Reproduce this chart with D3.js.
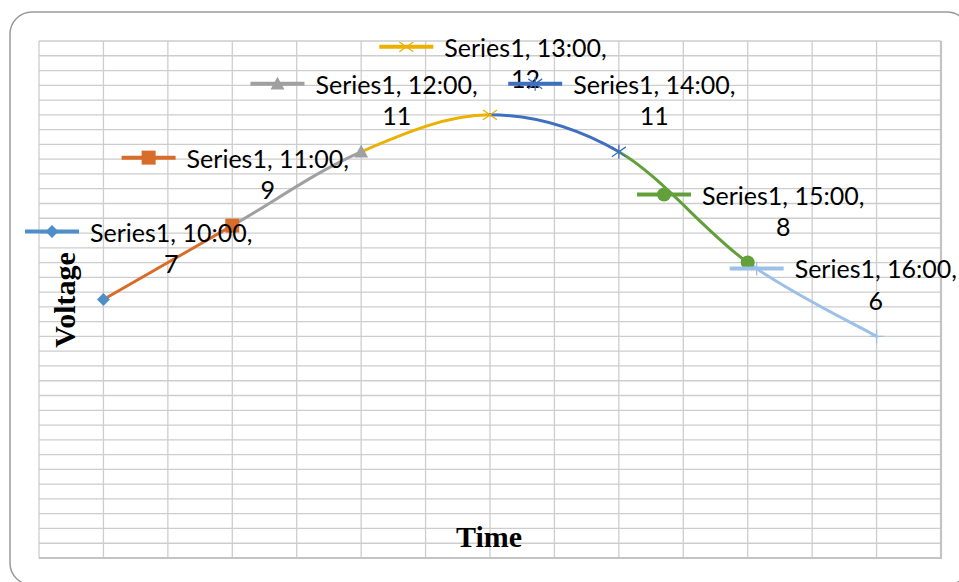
<!doctype html>
<html>

<head>
    <meta charset="UTF-8">
    <title>Voltage</title>
    <script src="https://d3js.org/d3.v7.min.js"></script>
    <style>
        body {
            margin: 0;
            background: #fff;
        }
    </style>
</head>

<body>
    <svg width="959" height="582"></svg>
    <script>
        // data
        var seriesName = "Series1";
        var categories = ["10:00", "11:00", "12:00", "13:00", "14:00", "15:00", "16:00"];
        var values = [7, 9, 11, 12, 11, 8, 6];
        var colors = ["#4f8ec9", "#d86c2a", "#a0a0a0", "#ebb000", "#3f6fbf", "#62a03c", "#9cc0e6"];
        var markers = ["diamond", "square", "triangle", "x", "star", "circle", "plus"];
        var yMax = 14;
        var yStep = 0.4;
        var xTitle = "Time";
        var yTitle = "Voltage";

        var W = 959, H = 582;
        var plot = { left: 39, top: 41, right: 941, bottom: 558 };

        var svg = d3.select("svg");

        // chart frame
        svg.append("rect")
            .attr("x", 10)
            .attr("y", 12)
            .attr("width", 959)
            .attr("height", 573)
            .attr("rx", 22)
            .attr("fill", "#fff")
            .attr("stroke", "#9a9a9a")
            .attr("stroke-width", 1.5);

        var x = d3.scaleBand()
            .domain(categories)
            .range([plot.left, plot.right])
            .padding(0);
        var bw = x.bandwidth();

        var y = d3.scaleLinear()
            .domain([0, yMax])
            .range([plot.bottom, plot.top]);

        function cx(c) {
            return x(c) + bw / 2;
        }

        // grid
        var grid = svg.append("g");
        var yTicks = d3.range(0, yMax + 1e-9, yStep);
        grid.selectAll("line.h").data(yTicks).enter().append("line")
            .attr("x1", plot.left)
            .attr("x2", plot.right)
            .attr("y1", function (d) { return y(d); })
            .attr("y2", function (d) { return y(d); })
            .attr("stroke", "#cdcdcd")
            .attr("stroke-width", 1.3);

        var xLines = [];
        categories.forEach(function (c) {
            xLines.push(x(c));
            xLines.push(cx(c));
        });
        xLines.push(plot.right);
        grid.selectAll("line.v").data(xLines).enter().append("line")
            .attr("x1", function (d) { return d; })
            .attr("x2", function (d) { return d; })
            .attr("y1", plot.top)
            .attr("y2", plot.bottom)
            .attr("stroke", "#cdcdcd")
            .attr("stroke-width", 1.3);

        // right / bottom edge a bit heavier
        grid.append("path")
            .attr("d", "M" + plot.right + "," + plot.top + "V" + plot.bottom + "H" + plot.left)
            .attr("fill", "none")
            .attr("stroke", "#c4c4c4")
            .attr("stroke-width", 2.2);

        // axis titles
        svg.append("text")
            .attr("x", (plot.left + plot.right) / 2 - 1)
            .attr("y", 547)
            .attr("text-anchor", "middle")
            .attr("font-family", "Liberation Serif, serif")
            .attr("font-weight", "bold")
            .attr("font-size", 30)
            .text(xTitle);

        svg.append("text")
            .attr("transform", "translate(75,300) rotate(-90)")
            .attr("text-anchor", "middle")
            .attr("font-family", "Liberation Serif, serif")
            .attr("font-weight", "bold")
            .attr("font-size", 30)
            .text(yTitle);

        // smoothed line, one piece per point colour
        var pts = categories.map(function (c, i) {
            return [cx(c), y(values[i])];
        });
        var lines = svg.append("g");
        for (var i = 1; i < pts.length; i++) {
            var p0 = pts[i - 2] || pts[i - 1];
            var p1 = pts[i - 1];
            var p2 = pts[i];
            var p3 = pts[i + 1] || pts[i];
            var p = d3.path();
            p.moveTo(p1[0], p1[1]);
            p.bezierCurveTo(
                p1[0] + (p2[0] - p0[0]) / 6, p1[1] + (p2[1] - p0[1]) / 6,
                p2[0] - (p3[0] - p1[0]) / 6, p2[1] - (p3[1] - p1[1]) / 6,
                p2[0], p2[1]);
            lines.append("path")
                .attr("d", p.toString())
                .attr("fill", "none")
                .attr("stroke", colors[i])
                .attr("stroke-width", 3)
                .attr("stroke-linecap", "round");
        }

        function markerPath(type, r) {
            var p = d3.path();
            if (type === "diamond") {
                p.moveTo(0, -r); p.lineTo(r, 0); p.lineTo(0, r); p.lineTo(-r, 0); p.closePath();
            } else if (type === "square") {
                p.rect(-r, -r, 2 * r, 2 * r);
            } else if (type === "triangle") {
                p.moveTo(0, -r); p.lineTo(r, r * 0.8); p.lineTo(-r, r * 0.8); p.closePath();
            } else if (type === "circle") {
                p.arc(0, 0, r, 0, 2 * Math.PI);
            } else if (type === "x") {
                p.moveTo(-r, -r * 0.7); p.lineTo(r, r * 0.7); p.moveTo(-r, r * 0.7); p.lineTo(r, -r * 0.7);
            } else if (type === "star") {
                p.moveTo(-r, -r * 0.7); p.lineTo(r, r * 0.7); p.moveTo(-r, r * 0.7); p.lineTo(r, -r * 0.7);
                p.moveTo(0, -r); p.lineTo(0, r);
            } else if (type === "plus") {
                p.moveTo(-r, 0); p.lineTo(r, 0); p.moveTo(0, -r); p.lineTo(0, r);
            }
            return p.toString();
        }

        function drawMarker(g, type, color, mx, my) {
            var filled = type === "diamond" || type === "square" || type === "triangle" || type === "circle";
            var r = type === "diamond" ? 6.5 : 7;
            g.append("path")
                .attr("transform", "translate(" + mx + "," + my + ")")
                .attr("d", markerPath(type, r))
                .attr("fill", filled ? color : "none")
                .attr("stroke", color)
                .attr("stroke-width", filled ? 0 : 1.3);
        }

        var marks = svg.append("g");
        pts.forEach(function (pt, i) {
            drawMarker(marks, markers[i], colors[i], pt[0], pt[1]);
        });

        // data labels with legend key
        var keyW = 54, gap = 11, lineGap = 31.5;
        var labels = svg.append("g")
            .attr("font-family", "Lato, 'Open Sans', sans-serif")
            .attr("font-size", 25)
            .attr("fill", "#000");

        pts.forEach(function (pt, i) {
            var g = labels.append("g");
            var t1 = g.append("text").text(seriesName + ", " + categories[i] + ",");
            var tw = t1.node().getComputedTextLength();
            var total = keyW + gap + tw;
            var left = pt[0] + 3 - total / 2;
            if (left < 25) left = 25;
            if (left + total > W - 2) left = W - 2 - total;
            var ky = pt[1] - 68;

            g.append("line")
                .attr("x1", left)
                .attr("x2", left + keyW)
                .attr("y1", ky)
                .attr("y2", ky)
                .attr("stroke", colors[i])
                .attr("stroke-width", 4);
            drawMarker(g, markers[i], colors[i], left + keyW / 2, ky);

            t1.attr("x", left + keyW + gap)
                .attr("y", ky + 10);
            t1.raise();
            g.append("text")
                .attr("x", left + keyW + gap + tw / 2)
                .attr("y", ky + 10 + lineGap)
                .attr("text-anchor", "middle")
                .text(values[i]);
        });
    </script>
</body>

</html>
